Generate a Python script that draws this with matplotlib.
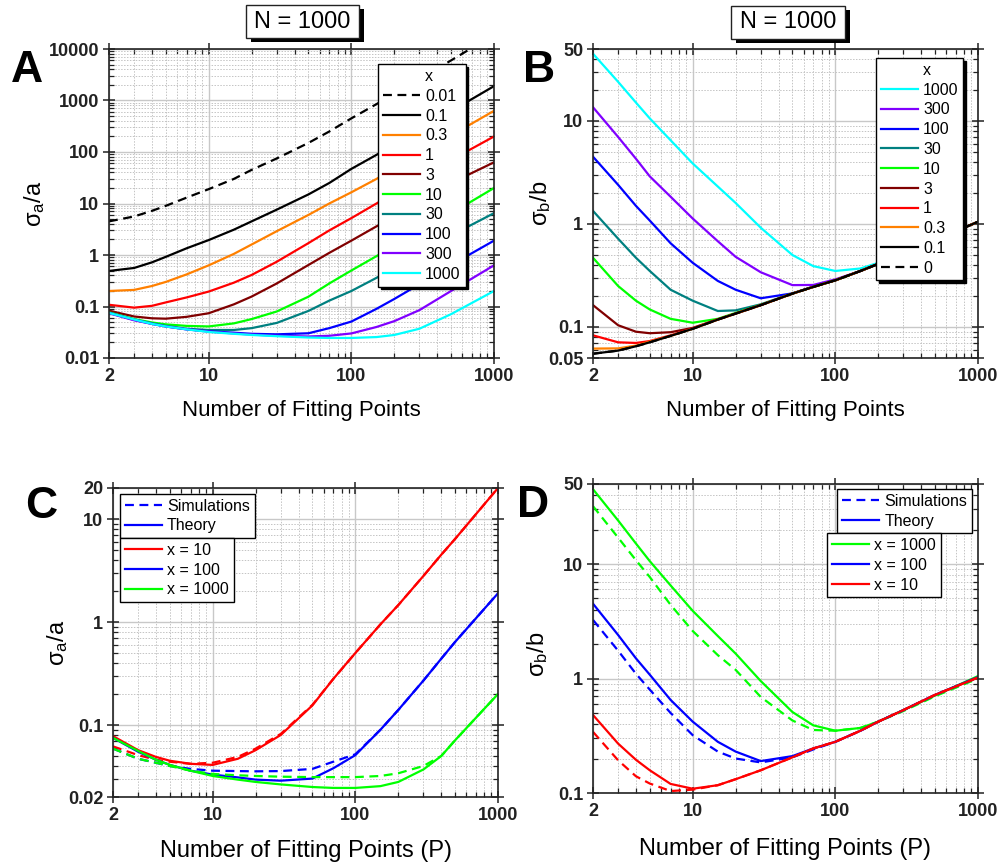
import matplotlib
matplotlib.use('Agg')
import matplotlib.pyplot as plt
from matplotlib import ticker
from matplotlib.patches import Rectangle
from matplotlib.lines import Line2D

plt.rcParams['font.family'] = ['Liberation Sans', 'DejaVu Sans']
plt.rcParams['mathtext.fontset'] = 'custom'
plt.rcParams['mathtext.rm'] = 'Liberation Sans'
plt.rcParams['mathtext.it'] = 'Liberation Sans:italic'
plt.rcParams['mathtext.bf'] = 'Liberation Sans:bold'
plt.rcParams['lines.solid_joinstyle'] = 'round'
plt.rcParams['lines.dash_joinstyle'] = 'round'

# ---------------- data ----------------
P = [2, 3, 4, 5, 7, 10, 15, 20, 30, 50, 70, 100, 150, 200, 300, 500, 1000]
P_C = [2, 3, 4, 5, 7, 10, 15, 20, 30, 50, 70, 100, 150, 200, 300, 400, 500, 1000]

# Panel A: sigma_a / a for several x
A_labels = ['0.01', '0.1', '0.3', '1', '3', '10', '30', '100', '300', '1000']
A_colors = ['black', 'black', '#FF8000', '#FF0000', '#800000', '#00FF00',
            '#008080', '#0000FF', '#8000FF', '#00FFFF']
A_x001 = [4.5, 5.6, 7.2, 9, 13, 19, 30, 45, 75, 150, 250, 450, 850, 1350, 2600, 6000, 19000]
A_x01 = [0.49, 0.56, 0.72, 0.92, 1.35, 1.95, 3.1, 4.5, 7.6, 15, 25, 47, 88, 140, 270, 620, 1900]
A_x03 = [0.20, 0.21, 0.25, 0.30, 0.42, 0.63, 1.05, 1.6, 2.9, 6.0, 10, 16.5, 30, 48, 92, 210, 630]
A_x1 = [0.108, 0.095, 0.103, 0.12, 0.15, 0.195, 0.29, 0.41, 0.74, 1.7, 3.0, 5.2, 10, 16, 31, 70, 200]
A_x3 = [0.083, 0.064, 0.059, 0.058, 0.063, 0.074, 0.11, 0.156, 0.28, 0.64, 1.1, 1.9, 3.6, 5.6, 10.8, 25, 63]
A_x10 = [0.077, 0.057, 0.049, 0.045, 0.042, 0.041, 0.047, 0.057, 0.08, 0.155, 0.28, 0.50, 0.95, 1.46, 2.8, 6.4, 20]
A_x30 = [0.076, 0.056, 0.047, 0.042, 0.037, 0.035, 0.035, 0.038, 0.048, 0.082, 0.13, 0.20, 0.36, 0.56, 1.1, 2.4, 6.5]
A_x100 = [0.075, 0.055, 0.046, 0.041, 0.036, 0.033, 0.031, 0.0295, 0.0288, 0.0302, 0.038, 0.051, 0.09, 0.14, 0.27, 0.64, 1.9]
A_x300 = [0.074, 0.054, 0.046, 0.041, 0.036, 0.0325, 0.030, 0.0285, 0.027, 0.0262, 0.027, 0.030, 0.04, 0.052, 0.085, 0.2, 0.63]
A_x1000 = [0.075, 0.056, 0.046, 0.041, 0.036, 0.032, 0.0295, 0.028, 0.0265, 0.025, 0.0245, 0.0245, 0.0255, 0.028, 0.037, 0.071, 0.2]
A_series = [A_x001, A_x01, A_x03, A_x1, A_x3, A_x10, A_x30, A_x100, A_x300, A_x1000]
A_yticks = [0.01, 0.1, 1, 10, 100, 1000, 10000]
A_yticklabels = ['0.01', '0.1', '1', '10', '100', '1000', '10000']

# Panel B: sigma_b / b for several x
B_labels = ['1000', '300', '100', '30', '10', '3', '1', '0.3', '0.1', '0']
B_colors = ['#00FFFF', '#8000FF', '#0000FF', '#008080', '#00FF00', '#800000',
            '#FF0000', '#FF8000', 'black', 'black']
B_x1000 = [45, 24, 15.1, 10.6, 6.5, 3.87, 2.31, 1.6, 0.92, 0.5, 0.39, 0.35, 0.37, 0.42, 0.52, 0.70, 1.05]
B_x300 = [13.6, 7.0, 4.3, 2.9, 1.84, 1.13, 0.68, 0.48, 0.34, 0.255, 0.256, 0.29, 0.35, 0.41, 0.52, 0.70, 1.05]
B_x100 = [4.5, 2.4, 1.5, 1.08, 0.65, 0.42, 0.28, 0.23, 0.19, 0.212, 0.247, 0.285, 0.35, 0.41, 0.52, 0.70, 1.05]
B_x30 = [1.34, 0.72, 0.47, 0.35, 0.23, 0.18, 0.143, 0.145, 0.166, 0.212, 0.245, 0.284, 0.35, 0.41, 0.52, 0.70, 1.05]
B_x10 = [0.47, 0.25, 0.18, 0.148, 0.12, 0.11, 0.12, 0.137, 0.164, 0.211, 0.245, 0.284, 0.35, 0.41, 0.52, 0.70, 1.05]
B_x3 = [0.163, 0.104, 0.090, 0.087, 0.089, 0.098, 0.119, 0.135, 0.163, 0.211, 0.245, 0.284, 0.35, 0.41, 0.52, 0.70, 1.05]
B_x1 = [0.083, 0.071, 0.070, 0.073, 0.083, 0.097, 0.118, 0.135, 0.163, 0.211, 0.245, 0.284, 0.35, 0.41, 0.52, 0.70, 1.05]
B_x03 = [0.0617, 0.062, 0.066, 0.072, 0.082, 0.096, 0.118, 0.135, 0.163, 0.211, 0.245, 0.284, 0.35, 0.41, 0.52, 0.70, 1.05]
B_x01 = [0.055, 0.059, 0.065, 0.071, 0.082, 0.096, 0.118, 0.135, 0.163, 0.211, 0.245, 0.284, 0.35, 0.41, 0.52, 0.70, 1.05]
B_x0 = [0.055, 0.059, 0.065, 0.071, 0.082, 0.096, 0.118, 0.135, 0.163, 0.211, 0.245, 0.284, 0.35, 0.41, 0.52, 0.70, 1.05]
B_series = [B_x1000, B_x300, B_x100, B_x30, B_x10, B_x3, B_x1, B_x03, B_x01, B_x0]
B_yticks = [0.05, 0.1, 1, 10, 50]
B_yticklabels = ['0.05', '0.1', '1', '10', '50']

# Panel C: sigma_a / a, simulations vs theory
C_labels = ['x = 10', 'x = 100', 'x = 1000']
C_colors = ['#FF0000', '#0000FF', '#00FF00']
C_th10 = [0.078, 0.057, 0.049, 0.045, 0.042, 0.041, 0.047, 0.057, 0.08, 0.155, 0.28, 0.50, 0.95, 1.46, 2.8, 4.5, 6.4, 20]
C_sim10 = [0.062, 0.051, 0.046, 0.044, 0.042, 0.043, 0.049, 0.059, 0.082, 0.157, 0.28, 0.50, 0.95, 1.46, 2.8, 4.5, 6.4, 20]
C_th100 = [0.075, 0.055, 0.046, 0.041, 0.036, 0.033, 0.031, 0.0295, 0.0288, 0.0302, 0.038, 0.051, 0.09, 0.14, 0.27, 0.44, 0.64, 1.9]
C_sim100 = [0.059, 0.047, 0.043, 0.040, 0.0375, 0.036, 0.0357, 0.0355, 0.0357, 0.0375, 0.044, 0.052, 0.09, 0.14, 0.27, 0.44, 0.64, 1.9]
C_th1000 = [0.075, 0.056, 0.046, 0.041, 0.036, 0.032, 0.0295, 0.028, 0.0265, 0.025, 0.0245, 0.0245, 0.0255, 0.028, 0.037, 0.050, 0.071, 0.2]
C_sim1000 = [0.059, 0.047, 0.043, 0.040, 0.036, 0.0335, 0.0325, 0.032, 0.0315, 0.0312, 0.0312, 0.0312, 0.032, 0.034, 0.040, 0.050, 0.071, 0.2]
C_theory = [C_th10, C_th100, C_th1000]
C_sims = [C_sim10, C_sim100, C_sim1000]
C_yticks = [0.02, 0.1, 1, 10, 20]
C_yticklabels = ['0.02', '0.1', '1', '10', '20']

# Panel D: sigma_b / b, simulations vs theory
D_labels = ['x = 1000', 'x = 100', 'x = 10']
D_colors = ['#00FF00', '#0000FF', '#FF0000']
D_th1000 = [45, 24, 15.1, 10.6, 6.5, 3.9, 2.35, 1.65, 0.95, 0.51, 0.39, 0.35, 0.37, 0.42, 0.53, 0.71, 1.05]
D_sim1000 = [32, 17, 10.8, 7.7, 4.4, 2.6, 1.6, 1.19, 0.69, 0.43, 0.355, 0.35, 0.37, 0.42, 0.52, 0.70, 1.0]
D_th100 = [4.5, 2.4, 1.5, 1.08, 0.65, 0.42, 0.28, 0.23, 0.19, 0.21, 0.245, 0.28, 0.35, 0.42, 0.53, 0.72, 1.03]
D_sim100 = [3.25, 1.75, 1.1, 0.8, 0.5, 0.32, 0.23, 0.2, 0.185, 0.205, 0.24, 0.28, 0.35, 0.42, 0.53, 0.72, 1.02]
D_th10 = [0.48, 0.27, 0.195, 0.158, 0.12, 0.109, 0.117, 0.132, 0.158, 0.205, 0.245, 0.28, 0.35, 0.42, 0.53, 0.72, 1.02]
D_sim10 = [0.342, 0.193, 0.14, 0.121, 0.104, 0.107, 0.117, 0.132, 0.158, 0.205, 0.245, 0.28, 0.35, 0.42, 0.53, 0.72, 1.02]
D_theory = [D_th1000, D_th100, D_th10]
D_sims = [D_sim1000, D_sim100, D_sim10]
D_yticks = [0.1, 1, 10, 50]
D_yticklabels = ['0.1', '1', '10', '50']

x_ticks = [2, 10, 100, 1000]
x_ticklabels = ['2', '10', '100', '1000']

# ---------------- figure ----------------
W, H = 1003, 867
fig = plt.figure(figsize=(W / 100, H / 100), dpi=100)


def px_axes(l, t, r, b):
    return fig.add_axes([l / W, 1 - b / H, (r - l) / W, (b - t) / H])


axA = px_axes(109, 49, 494, 358)
axB = px_axes(593, 49, 978, 358)
axC = px_axes(113, 488, 498, 797)
axD = px_axes(593, 484, 978, 793)

LW = 1.6
DASH = (4, 2.5)


def style(ax, ylim, yticks, yticklabels):
    ax.set_xscale('log')
    ax.set_yscale('log')
    ax.set_xlim(2, 1000)
    ax.set_ylim(*ylim)
    ax.set_xticks(x_ticks)
    ax.set_xticklabels(x_ticklabels, fontweight='bold', fontsize=13)
    ax.set_yticks(yticks)
    ax.set_yticklabels(yticklabels, fontweight='bold', fontsize=13)
    ax.xaxis.set_minor_locator(ticker.LogLocator(base=10, subs=range(2, 10), numticks=20))
    ax.yaxis.set_minor_locator(ticker.LogLocator(base=10, subs=range(2, 10), numticks=20))
    ax.xaxis.set_minor_formatter(ticker.NullFormatter())
    ax.yaxis.set_minor_formatter(ticker.NullFormatter())
    ax.tick_params(which='major', direction='inout', length=8, width=1.1,
                   top=True, right=True, pad=3, colors='#222222')
    ax.tick_params(which='minor', direction='in', length=3.5, width=0.9,
                   top=True, right=True, colors='#222222')
    ax.grid(True, which='major', color='#c8c8c8', lw=1.0, ls='-')
    ax.grid(True, which='minor', color='#c4c4c4', lw=0.7, ls=(0, (1.5, 1.5)))
    ax.set_axisbelow(True)
    for s in ax.spines.values():
        s.set_linewidth(1.2)
        s.set_color('#222222')


leg_kw = dict(fontsize=11.5, handlelength=2.35, handletextpad=0.3, borderpad=0.3,
              labelspacing=0.3, fancybox=False, framealpha=1, edgecolor='black',
              borderaxespad=0)

# ---- Panel A ----
style(axA, (0.01, 10000), A_yticks, A_yticklabels)
handlesA = [Line2D([], [], color='none', label='x')]
for vals, col, lab in zip(A_series, A_colors, A_labels):
    ls = (0, DASH) if lab == '0.01' else '-'
    h, = axA.plot(P, vals, color=col, lw=LW, ls=ls, label=lab)
    handlesA.append(h)
legA = axA.legend(handles=handlesA, loc='upper left', bbox_to_anchor=(0.699, 0.951),
                  shadow={'color': 'black', 'alpha': 1}, **leg_kw)
legA.get_frame().set_linewidth(1.0)
axA.set_xlabel('Number of Fitting Points', fontsize=16)
axA.xaxis.set_label_coords(0.5, -0.136)
axA.set_ylabel('σ$_\\mathrm{a}$/a', fontsize=17)
axA.yaxis.set_label_coords(-0.16, 0.5)

# ---- Panel B ----
style(axB, (0.05, 50), B_yticks, B_yticklabels)
handlesB = [Line2D([], [], color='none', label='x')]
for vals, col, lab in zip(B_series, B_colors, B_labels):
    ls = (0, DASH) if lab == '0' else '-'
    h, = axB.plot(P, vals, color=col, lw=LW, ls=ls, label=lab)
    handlesB.append(h)
legB = axB.legend(handles=handlesB, loc='upper left', bbox_to_anchor=(0.735, 0.971),
                  shadow={'color': 'black', 'alpha': 1}, **leg_kw)
legB.get_frame().set_linewidth(1.0)
axB.set_xlabel('Number of Fitting Points', fontsize=16)
axB.xaxis.set_label_coords(0.5, -0.136)
axB.set_ylabel('σ$_\\mathrm{b}$/b', fontsize=17)
axB.yaxis.set_label_coords(-0.104, 0.5)

# ---- Panel C ----
style(axC, (0.02, 20), C_yticks, C_yticklabels)
hC = []
for th, sim, col, lab in zip(C_theory, C_sims, C_colors, C_labels):
    axC.plot(P_C, sim, color=col, lw=LW, ls=(0, DASH))
    h, = axC.plot(P_C, th, color=col, lw=LW, ls='-', label=lab)
    hC.append(h)
typeC = [Line2D([], [], color='#0000FF', lw=LW, ls=(0, DASH), label='Simulations'),
         Line2D([], [], color='#0000FF', lw=LW, ls='-', label='Theory')]
leg1C = axC.legend(handles=typeC, loc='upper left', bbox_to_anchor=(0.018, 0.981), **leg_kw)
leg1C.get_frame().set_linewidth(1.0)
axC.add_artist(leg1C)
leg2C = axC.legend(handles=hC, loc='upper left', bbox_to_anchor=(0.018, 0.838), **leg_kw)
leg2C.get_frame().set_linewidth(1.0)
axC.set_xlabel('Number of Fitting Points (P)', fontsize=17)
axC.xaxis.set_label_coords(0.5, -0.139)
axC.set_ylabel('σ$_\\mathrm{a}$/a', fontsize=17)
axC.yaxis.set_label_coords(-0.112, 0.5)

# ---- Panel D ----
style(axD, (0.1, 50), D_yticks, D_yticklabels)
hD = []
for th, sim, col, lab in zip(D_theory, D_sims, D_colors, D_labels):
    axD.plot(P, sim, color=col, lw=LW, ls=(0, DASH))
    h, = axD.plot(P, th, color=col, lw=LW, ls='-', label=lab)
    hD.append(h)
typeD = [Line2D([], [], color='#0000FF', lw=LW, ls=(0, DASH), label='Simulations'),
         Line2D([], [], color='#0000FF', lw=LW, ls='-', label='Theory')]
leg1D = axD.legend(handles=typeD, loc='upper right', bbox_to_anchor=(0.984, 0.984), **leg_kw)
leg1D.get_frame().set_linewidth(1.0)
axD.add_artist(leg1D)
leg2D = axD.legend(handles=hD, loc='upper left', bbox_to_anchor=(0.608, 0.841), **leg_kw)
leg2D.get_frame().set_linewidth(1.0)
axD.set_xlabel('Number of Fitting Points (P)', fontsize=17)
axD.xaxis.set_label_coords(0.5, -0.146)
axD.set_ylabel('σ$_\\mathrm{b}$/b', fontsize=17)
axD.yaxis.set_label_coords(-0.112, 0.45)

# ---- panel letters ----
for letter, x, y in [('A', 27, 82), ('B', 539, 82), ('C', 41, 518), ('D', 533, 517)]:
    fig.text(x / W, 1 - y / H, letter, fontsize=32, fontweight='bold',
             ha='center', va='baseline')

# ---- "N = 1000" boxes with shadow ----
for (l, t, r, b) in [(246, 5, 359, 38), (731, 6, 845, 39)]:
    fig.add_artist(Rectangle(((l + 5) / W, 1 - (b + 4) / H), (r - l) / W, (b - t) / H,
                             transform=fig.transFigure, facecolor='black',
                             edgecolor='black', lw=0, zorder=5))
    fig.add_artist(Rectangle((l / W, 1 - b / H), (r - l) / W, (b - t) / H,
                             transform=fig.transFigure, facecolor='white',
                             edgecolor='#222222', lw=1.0, zorder=6))
    fig.text((l + r) / 2 / W, 1 - (t + b) / 2 / H, 'N = 1000', fontsize=17,
             ha='center', va='center', zorder=7)

fig.savefig('out.png', dpi=100)
